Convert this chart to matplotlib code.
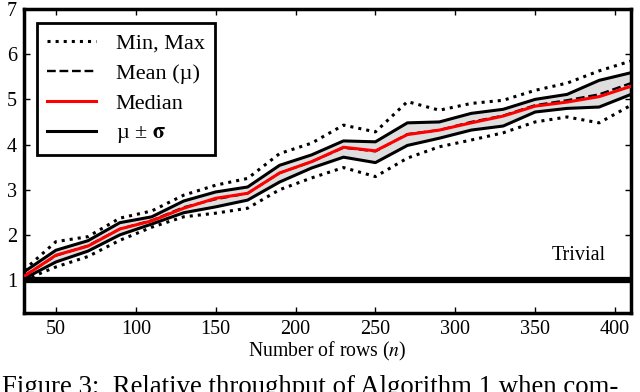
import matplotlib
matplotlib.use("Agg")
import matplotlib.pyplot as plt
import numpy as np

n_rows = [30, 50, 70, 90, 110, 130, 150, 170, 190, 210, 230, 250, 270, 290, 310, 330, 350, 370, 390, 410]
max_vals = [1.22, 1.85, 1.96, 2.37, 2.53, 2.88, 3.10, 3.25, 3.80, 4.03, 4.43, 4.28, 4.95, 4.76, 4.91, 4.98, 5.20, 5.36, 5.63, 5.85]
upper_sig = [1.18, 1.66, 1.87, 2.27, 2.40, 2.75, 2.95, 3.06, 3.54, 3.77, 4.08, 4.06, 4.48, 4.50, 4.69, 4.78, 5.00, 5.11, 5.42, 5.59]
median_vals = [1.08, 1.55, 1.75, 2.13, 2.31, 2.59, 2.81, 2.92, 3.37, 3.62, 3.94, 3.86, 4.22, 4.32, 4.48, 4.63, 4.85, 4.94, 5.06, 5.29]
mean_vals = [1.09, 1.54, 1.76, 2.13, 2.32, 2.61, 2.79, 2.92, 3.37, 3.62, 3.93, 3.85, 4.23, 4.32, 4.50, 4.64, 4.87, 4.98, 5.11, 5.36]
lower_sig = [1.03, 1.40, 1.64, 2.00, 2.24, 2.49, 2.62, 2.77, 3.17, 3.48, 3.72, 3.60, 3.98, 4.14, 4.32, 4.41, 4.72, 4.80, 4.83, 5.11]
min_vals = [1.00, 1.29, 1.52, 1.88, 2.17, 2.40, 2.48, 2.59, 3.00, 3.26, 3.49, 3.29, 3.70, 3.95, 4.10, 4.26, 4.50, 4.61, 4.48, 4.87]
trivial = 1.0

x_ticks = [50, 100, 150, 200, 250, 300, 350, 400]
y_ticks = [1, 2, 3, 4, 5, 6, 7]

plt.rcParams['font.family'] = ['Liberation Serif', 'DejaVu Serif']
plt.rcParams['mathtext.fontset'] = 'stix'

fig = plt.figure(figsize=(6.4, 3.92), dpi=100)
ax = fig.add_axes([0.0375, 0.2015, 0.9485, 0.7755])

ax.fill_between(n_rows, lower_sig, upper_sig, color='#dedede', lw=0, zorder=1)
ax.plot(n_rows, max_vals, ':', color='black', lw=2.2, label='Min, Max', zorder=3)
ax.plot(n_rows, min_vals, ':', color='black', lw=2.2, zorder=3)
ax.plot(n_rows, mean_vals, '--', color='black', lw=1.7, label='Mean (\u00b5)', zorder=3)
ax.plot(n_rows, median_vals, '-', color='red', lw=2.2, label='Median', zorder=4)
ax.plot(n_rows, upper_sig, '-', color='black', lw=2.2, label='\u00b5 \u00b1 $\\mathbf{\\sigma}$', zorder=3)
ax.plot(n_rows, lower_sig, '-', color='black', lw=2.2, zorder=3)
ax.axhline(trivial, color='black', lw=4.5, zorder=5)
ax.text(394, 1.55, 'Trivial', ha='right', va='center', fontsize=14.5)

ax.set_xlim(30, 410)
ax.set_ylim(0.27, 7)
ax.set_xticks(x_ticks)
ax.set_yticks(y_ticks)
ax.tick_params(direction='in', top=True, right=True, length=4, width=1, labelsize=14.5, pad=5)
for s in ax.spines.values():
    s.set_linewidth(2.5)
ax.set_xlabel('Number of rows ($n$)', fontsize=14.2, labelpad=1)

leg = ax.legend(loc='upper left', fontsize=16, fancybox=False, framealpha=1,
                edgecolor='black', handlelength=2.2, handletextpad=0.9, borderpad=0.45,
                labelspacing=0.42, bbox_to_anchor=(0.003, 0.99))
leg.get_frame().set_linewidth(2)

fig.text(0.003, 0.012, 'Figure 3:  Relative throughput of Algorithm 1 when com-', fontsize=19.3, ha='left', va='center')

fig.savefig('out.png', dpi=100)
